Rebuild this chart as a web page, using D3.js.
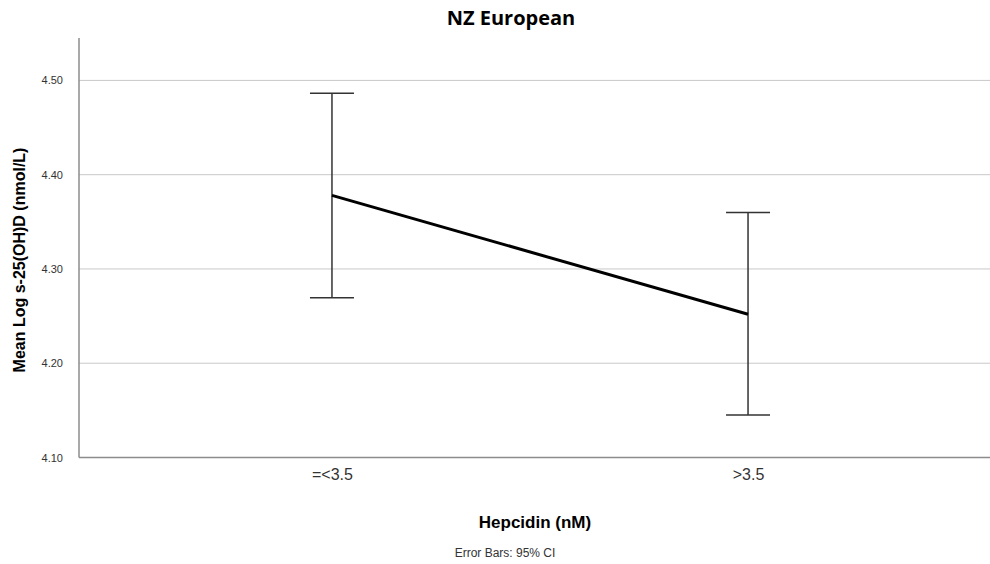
<!DOCTYPE html>
<html lang="en">
<head>
<meta charset="UTF-8">
<title>NZ European</title>
<script src="https://d3js.org/d3.v7.min.js"></script>
<style>
    body { margin: 0; background: #fff; }
    svg { display: block; }
    .tick text { fill: #333; }
</style>
</head>
<body>
<svg width="990" height="564"></svg>
<script>
    // data
    let groups = ["=<3.5", ">3.5"];
    let means = [4.378, 4.252];
    let ciLow = [4.2695, 4.145];
    let ciHigh = [4.4865, 4.360];
    let yTicks = [4.10, 4.20, 4.30, 4.40, 4.50];

    let data = groups.map((g, i) => ({ group: g, mean: means[i], lo: ciLow[i], hi: ciHigh[i] }));

    let svg = d3.select("svg");
    let plotLeft = 79, plotRight = 1001, plotTop = 38, plotBottom = 457.5;

    let x = d3.scalePoint()
        .domain(groups)
        .range([plotLeft, plotRight])
        .padding(0.608);

    let y = d3.scaleLinear()
        .domain([4.10, 4.545])
        .range([plotBottom, plotTop]);

    // gridlines
    svg.append("g")
        .selectAll("line")
        .data(yTicks.slice(1))
        .join("line")
        .attr("x1", plotLeft)
        .attr("x2", 990)
        .attr("y1", d => y(d))
        .attr("y2", d => y(d))
        .attr("stroke", "#c8c8c8")
        .attr("stroke-width", 1);

    // y axis
    let gY = svg.append("g")
        .attr("transform", `translate(${plotLeft},0)`)
        .call(d3.axisLeft(y).tickValues(yTicks).tickFormat(d3.format(".2f")).tickSize(0).tickPadding(16));
    gY.select(".domain").remove();
    gY.selectAll("text")
        .attr("font-family", "Liberation Sans, Arial, sans-serif")
        .attr("font-size", "11px");

    svg.append("line")
        .attr("x1", plotLeft).attr("x2", plotLeft)
        .attr("y1", plotTop).attr("y2", plotBottom)
        .attr("stroke", "#8c8c8c")
        .attr("stroke-width", 1.5);

    // x axis
    let gX = svg.append("g")
        .attr("transform", `translate(0,${plotBottom})`)
        .call(d3.axisBottom(x).tickSize(0).tickPadding(11));
    gX.select(".domain").remove();
    gX.selectAll("text")
        .attr("font-family", "Liberation Sans, Arial, sans-serif")
        .attr("font-size", "16px");

    svg.append("line")
        .attr("x1", plotLeft).attr("x2", 990)
        .attr("y1", plotBottom).attr("y2", plotBottom)
        .attr("stroke", "#8c8c8c")
        .attr("stroke-width", 1.5);

    // error bars
    let eb = svg.append("g")
        .attr("stroke", "#333")
        .attr("stroke-width", 1.5);
    eb.selectAll(".stem")
        .data(data)
        .join("line")
        .attr("class", "stem")
        .attr("x1", d => x(d.group)).attr("x2", d => x(d.group))
        .attr("y1", d => y(d.lo)).attr("y2", d => y(d.hi));
    eb.selectAll(".capHi")
        .data(data)
        .join("line")
        .attr("class", "capHi")
        .attr("x1", d => x(d.group) - 22).attr("x2", d => x(d.group) + 22)
        .attr("y1", d => y(d.hi)).attr("y2", d => y(d.hi));
    eb.selectAll(".capLo")
        .data(data)
        .join("line")
        .attr("class", "capLo")
        .attr("x1", d => x(d.group) - 22).attr("x2", d => x(d.group) + 22)
        .attr("y1", d => y(d.lo)).attr("y2", d => y(d.lo));

    // mean line
    svg.append("path")
        .datum(data)
        .attr("fill", "none")
        .attr("stroke", "#000")
        .attr("stroke-width", 3)
        .attr("d", d3.line().x(d => x(d.group)).y(d => y(d.mean)));

    // titles
    svg.append("text")
        .attr("x", 511).attr("y", 25)
        .attr("text-anchor", "middle")
        .attr("font-family", "Open Sans, sans-serif")
        .attr("font-weight", "bold")
        .attr("font-size", "20px")
        .text("NZ European");

    svg.append("text")
        .attr("transform", "translate(25,260) rotate(-90)")
        .attr("text-anchor", "middle")
        .attr("font-family", "Liberation Sans, Arial, sans-serif")
        .attr("font-weight", "bold")
        .attr("font-size", "16px")
        .text("Mean Log s-25(OH)D (nmol/L)");

    svg.append("text")
        .attr("x", 535).attr("y", 528)
        .attr("text-anchor", "middle")
        .attr("font-family", "Liberation Sans, Arial, sans-serif")
        .attr("font-weight", "bold")
        .attr("font-size", "17px")
        .text("Hepcidin (nM)");

    svg.append("text")
        .attr("x", 505).attr("y", 557)
        .attr("text-anchor", "middle")
        .attr("font-family", "Liberation Sans, Arial, sans-serif")
        .attr("font-size", "12px")
        .attr("fill", "#333")
        .text("Error Bars: 95% CI");
</script>
</body>
</html>
